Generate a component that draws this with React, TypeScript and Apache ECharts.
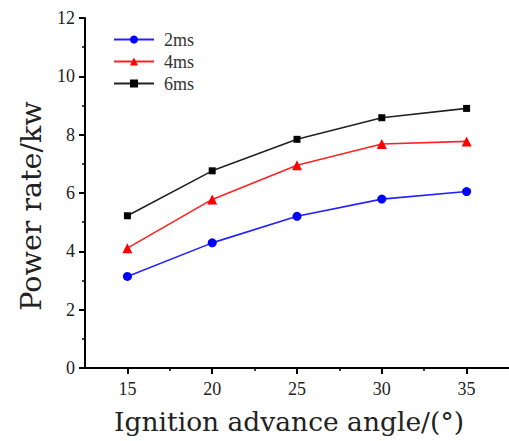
import React, { useEffect, useRef } from "react";
import * as echarts from "echarts";

const angles = [15, 20, 25, 30, 35];
const seriesNames = ["2ms", "4ms", "6ms"];
const power2ms = [3.14, 4.29, 5.2, 5.79, 6.05];
const power4ms = [4.11, 5.78, 6.95, 7.68, 7.77];
const power6ms = [5.22, 6.76, 7.84, 8.58, 8.9];
const xMajorTicks = [15, 20, 25, 30, 35];
const xMinorTicks = [17.5, 22.5, 27.5, 32.5];
const xTitle = "Ignition advance angle/(°)";
const yTitle = "Power rate/kw";

export default function App() {
  const ref = useRef<HTMLDivElement>(null);
  useEffect(() => {
    if (!ref.current) return;
    const chart = echarts.init(ref.current, null, { renderer: "svg" });
    const mk = (vals: number[]) => vals.map((v, i) => [angles[i], v]);
    const serif = "Liberation Serif";
    const tickFont = { fontFamily: serif, fontSize: 18, color: "#222" };
    chart.setOption({
      animation: false,
      backgroundColor: "#fff",
      grid: { left: 85, top: 18, bottom: 73, right: -13, containLabel: false },
      legend: {
        orient: "vertical",
        left: 113,
        top: 30.5,
        padding: 0,
        itemWidth: 40,
        itemHeight: 10,
        itemGap: 4,
        textStyle: { fontFamily: serif, fontSize: 18, color: "#333", padding: [0, 0, 0, 5] },
        data: seriesNames,
      },
      xAxis: [
        {
          type: "value",
          min: 12.5,
          max: 37.5,
          interval: 2.5,
          name: xTitle,
          nameLocation: "middle",
          nameGap: 40,
          nameTextStyle: { fontFamily: "DejaVu Serif", fontSize: 26.5, color: "#222", padding: [0, 16, 0, 0] },
          splitLine: { show: false },
          axisLine: { show: true, onZero: false, lineStyle: { color: "#000", width: 2 } },
          axisTick: { show: true, length: 6, customValues: xMajorTicks, lineStyle: { color: "#000", width: 2 } },
          axisLabel: { ...tickFont, margin: 12, customValues: xMajorTicks },
        },
        {
          type: "value",
          min: 12.5,
          max: 37.5,
          interval: 2.5,
          position: "bottom",
          splitLine: { show: false },
          axisLine: { show: false, onZero: false },
          axisTick: { show: true, length: 3, customValues: xMinorTicks, lineStyle: { color: "#000", width: 1.5 } },
          axisLabel: { show: false },
        },
      ],
      yAxis: {
        type: "value",
        min: 0,
        max: 12,
        interval: 2,
        name: yTitle,
        nameLocation: "middle",
        nameGap: 32,
        nameTextStyle: { fontFamily: "DejaVu Serif", fontSize: 28.5, color: "#222", padding: [0, 26, 0, 0] },
        splitLine: { show: false },
        axisLine: { show: true, lineStyle: { color: "#000", width: 2 } },
        axisTick: { show: true, length: 6, lineStyle: { color: "#000", width: 2 } },
        minorTick: { show: true, splitNumber: 2, length: 3, lineStyle: { color: "#000", width: 1.5 } },
        axisLabel: { ...tickFont, margin: 10 },
      },
      series: [
        {
          name: seriesNames[0],
          type: "line",
          data: mk(power2ms),
          symbol: "circle",
          symbolSize: 9,
          color: "#0000ff",
          lineStyle: { width: 1.6, color: "#2222ff" },
          itemStyle: { color: "#0000ff" },
        },
        {
          name: seriesNames[1],
          type: "line",
          data: mk(power4ms),
          symbol: "triangle",
          symbolSize: 10,
          color: "#ff0000",
          lineStyle: { width: 1.6, color: "#ff2222" },
          itemStyle: { color: "#ff0000" },
        },
        {
          name: seriesNames[2],
          type: "line",
          data: mk(power6ms),
          symbol: "rect",
          symbolSize: 7,
          color: "#000000",
          lineStyle: { width: 1.6, color: "#222222" },
          itemStyle: { color: "#000000" },
        },
      ],
    });
    return () => chart.dispose();
  }, []);
  return (
    <div
      ref={ref}
      style={{ position: "absolute", left: 0, top: 0, width: 509, height: 441, background: "#fff" }}
    />
  );
}
